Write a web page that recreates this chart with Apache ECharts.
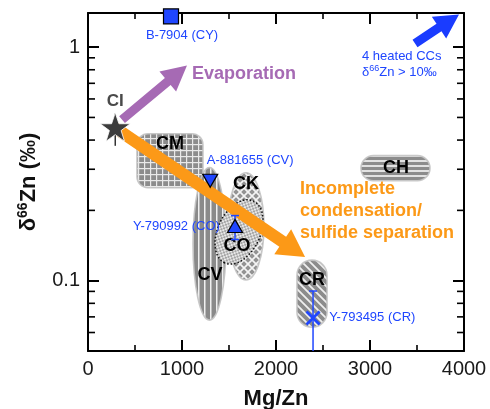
<!DOCTYPE html>
<html><head><meta charset="utf-8">
<script src="https://cdn.jsdelivr.net/npm/echarts@6/dist/echarts.min.js"></script>
<style>html,body{margin:0;padding:0;background:#fff}#c{width:490px;height:409px}</style>
</head><body><div id="c"></div>
<script>
const FONT = '"Liberation Sans", Arial, Helvetica, sans-serif';

// ---- axes ----
const xMin = 0, xMax = 4000, xInterval = 1000;
const yMin = 0.05, yMax = 1.4;
const yMajorTicks = [0.1, 1];
const yMinorTicks = [0.06, 0.07, 0.08, 0.09, 0.2, 0.3, 0.4, 0.5, 0.6, 0.7, 0.8, 0.9];

// ---- chondrite group fields ----
const regionNames  = ['CM', 'CV', 'CK', 'CO', 'CR', 'CH'];
const regionXMin   = [521, 1117, 1489, 1351, 2223, 2904];
const regionXMax   = [1223, 1468, 1872, 1862, 2543, 3638];
const regionYMin   = [0.250, 0.0678, 0.1007, 0.1178, 0.0632, 0.268];
const regionYMax   = [0.426, 0.305, 0.290, 0.222, 0.1225, 0.343];
const regionLabelX = [872, 1298, 1681, 1585, 2383, 3277];
const regionLabelY = [0.386, 0.1057, 0.260, 0.141, 0.1005, 0.305];

// ---- CI ----
const ciName = 'CI';
const ciMgZn = 290;
const ciD66Zn = 0.455;
const ciErrLow = 0.378;
const ciErrHigh = 0.52;

// ---- individual samples ----
const sampleNames   = ['B-7904 (CY)', 'A-881655 (CV)', 'Y-790992 (CO)', 'Y-793495 (CR)'];
const sampleMgZn    = [883, 1300, 1564, 2394];
const sampleD66Zn   = [1.354, 0.268, 0.1715, 0.0692];
const sampleErrLow  = [null, null, 0.150, 0.03];
const sampleErrHigh = [null, null, 0.190, 0.0903];

// ---- arrows ----
const arrowNames = ['Evaporation', 'Incomplete condensation/sulfide separation', 'heated CCs'];
const arrowFromX = [362, 287, 3479];
const arrowFromY = [0.4895, 0.452, 1.037];
const arrowToX   = [1053, 2309, 3947];
const arrowToY   = [0.8345, 0.1264, 1.381];

// ---- styles ----
const BLUE = '#1f46ff';
const PURPLE = '#a66ab4';
const ORANGE = '#fc9917';
const arrowStyle = [
  {color: PURPLE, shaft: 9, headLen: 25, headHalf: 13},
  {color: ORANGE, shaft: 12, headLen: 27, headHalf: 15},
  {color: '#1a3cff', shaft: 9, headLen: 24, headHalf: 13}
];

function makePattern(kind) {
  const c = document.createElement('canvas');
  let s = 6;
  const ctx = () => c.getContext('2d');
  if (kind === 'grid') {
    s = 6; c.width = s; c.height = s; const g = ctx();
    g.fillStyle = '#8c8c8c'; g.fillRect(0, 0, s, s);
    g.fillStyle = '#e9e9e9'; g.fillRect(0, 0, s, 1.2); g.fillRect(0, 0, 1.2, s);
  } else if (kind === 'vstripe') {
    c.width = 6; c.height = 6; const g = ctx();
    g.fillStyle = '#8a8a8a'; g.fillRect(0, 0, 6, 6);
    g.fillStyle = '#f0f0f0'; g.fillRect(0, 0, 1.5, 6);
  } else if (kind === 'cross') {
    s = 8; c.width = s; c.height = s; const g = ctx();
    g.fillStyle = '#939393'; g.fillRect(0, 0, s, s);
    g.strokeStyle = '#f4f4f4'; g.lineWidth = 1.7;
    g.beginPath(); g.moveTo(-1, -1); g.lineTo(s + 1, s + 1); g.moveTo(s + 1, -1); g.lineTo(-1, s + 1); g.stroke();
  } else if (kind === 'dots') {
    c.width = 4; c.height = 4; const g = ctx();
    g.fillStyle = '#e8e8e8'; g.fillRect(0, 0, 4, 4);
    g.fillStyle = '#a4a4a4'; g.fillRect(0, 0, 2, 2); g.fillRect(2, 2, 2, 2);
  } else if (kind === 'diag') {
    s = 8; c.width = s; c.height = s; const g = ctx();
    g.fillStyle = '#8c8c8c'; g.fillRect(0, 0, s, s);
    g.strokeStyle = '#efefef'; g.lineWidth = 1.8;
    g.beginPath();
    [-s, 0, s].forEach(k => { g.moveTo(k - 1, -1); g.lineTo(k + s + 1, s + 1); });
    g.stroke();
  } else if (kind === 'hstripe') {
    c.width = 5; c.height = 5; const g = ctx();
    g.fillStyle = '#8c8c8c'; g.fillRect(0, 0, 5, 5);
    g.fillStyle = '#e2e2e2'; g.fillRect(0, 0, 5, 2);
  }
  return {image: c, repeat: 'repeat'};
}

const regionStyle = {
  CM: {shape: 'roundRect', pattern: 'grid', r: 11},
  CV: {shape: 'ellipse', pattern: 'vstripe'},
  CK: {shape: 'ellipse', pattern: 'cross'},
  CO: {shape: 'tilted', pattern: 'dots', tilt: 65},
  CR: {shape: 'capsule', pattern: 'diag'},
  CH: {shape: 'capsule', pattern: 'hstripe'}
};
const patterns = {};
['grid', 'vstripe', 'cross', 'dots', 'diag', 'hstripe'].forEach(k => patterns[k] = makePattern(k));

function renderRegion(params, api) {
  const name = regionNames[params.dataIndex];
  const st = regionStyle[name];
  const p1 = api.coord([api.value(0), api.value(3)]);
  const p2 = api.coord([api.value(1), api.value(2)]);
  const x = p1[0], y = p1[1], w = p2[0] - p1[0], h = p2[1] - p1[1];
  const fill = patterns[st.pattern];
  const rim = {fill: fill, stroke: 'rgba(195,195,195,0.9)', lineWidth: 1.6};
  let shapeEl;
  if (st.shape === 'roundRect' || st.shape === 'capsule') {
    const r = st.shape === 'capsule' ? Math.min(w, h) / 2 : st.r;
    shapeEl = {type: 'rect', shape: {x: x, y: y, width: w, height: h, r: r}, style: rim};
  } else if (st.shape === 'ellipse') {
    shapeEl = {type: 'ellipse', shape: {cx: x + w / 2, cy: y + h / 2, rx: w / 2, ry: h / 2}, style: rim};
  } else {
    const t = st.tilt * Math.PI / 180;
    const c2 = Math.cos(t) ** 2, s2 = Math.sin(t) ** 2;
    const P = (w / 2) ** 2, Q = (h / 2) ** 2;
    const diff = (P - Q) / (c2 - s2), sum = P + Q;
    const a = Math.sqrt(Math.max((sum + diff) / 2, 1)), b = Math.sqrt(Math.max((sum - diff) / 2, 1));
    shapeEl = {type: 'ellipse', x: x + w / 2, y: y + h / 2, rotation: t,
      shape: {cx: 0, cy: 0, rx: a, ry: b},
      style: {fill: fill, stroke: '#111', lineWidth: 1.5, lineDash: [1.5, 2]}};
  }
  const lp = api.coord([api.value(4), api.value(5)]);
  return {type: 'group', children: [
    shapeEl,
    {type: 'text', x: lp[0], y: lp[1], z2: 10, style: {text: name, fill: '#000', fontSize: 18, fontWeight: 'bold',
      fontFamily: FONT, align: 'center', verticalAlign: 'middle'}}
  ]};
}

function renderArrow(params, api) {
  const st = arrowStyle[params.dataIndex];
  const a = api.coord([api.value(0), api.value(1)]);
  const b = api.coord([api.value(2), api.value(3)]);
  const dx = b[0] - a[0], dy = b[1] - a[1], L = Math.hypot(dx, dy);
  const ux = dx / L, uy = dy / L, nx = -uy, ny = ux;
  const nk = [b[0] - ux * st.headLen, b[1] - uy * st.headLen];
  const s = st.shaft / 2, hh = st.headHalf;
  const pts = [
    [a[0] + nx * s, a[1] + ny * s], [nk[0] + nx * s, nk[1] + ny * s], [nk[0] + nx * hh, nk[1] + ny * hh],
    b, [nk[0] - nx * hh, nk[1] - ny * hh], [nk[0] - nx * s, nk[1] - ny * s], [a[0] - nx * s, a[1] - ny * s]
  ];
  return {type: 'polygon', shape: {points: pts}, style: {fill: st.color}};
}

function renderErr(params, api) {
  const info = errItems[params.dataIndex];
  const lo = api.coord([api.value(0), api.value(1)]);
  const hi = api.coord([api.value(0), api.value(2)]);
  const ch = [];
  const ls = {stroke: info.color, lineWidth: 1.5};
  ch.push({type: 'line', shape: {x1: lo[0], y1: lo[1], x2: hi[0], y2: hi[1]}, style: ls});
  if (info.cap) {
    ch.push({type: 'line', shape: {x1: lo[0] - 4, y1: lo[1], x2: lo[0] + 4, y2: lo[1]}, style: ls});
    ch.push({type: 'line', shape: {x1: hi[0] - 4, y1: hi[1], x2: hi[0] + 4, y2: hi[1]}, style: ls});
  }
  return {type: 'group', children: ch};
}

function renderMinorY(params, api) {
  const cs = params.coordSys;
  const p = api.coord([xMin, api.value(1)]);
  const st = {stroke: '#000', lineWidth: 1.6};
  return {type: 'group', children: [
    {type: 'line', shape: {x1: cs.x, y1: p[1], x2: cs.x + 7, y2: p[1]}, style: st},
    {type: 'line', shape: {x1: cs.x + cs.width, y1: p[1], x2: cs.x + cs.width - 7, y2: p[1]}, style: st}
  ]};
}

const errItems = [{x: ciMgZn, lo: ciErrLow, hi: ciErrHigh, color: '#333', cap: false}];
sampleNames.forEach((n, i) => {
  if (sampleErrLow[i] != null) errItems.push({x: sampleMgZn[i], lo: sampleErrLow[i], hi: sampleErrHigh[i], color: BLUE, cap: true});
});

const STAR = 'path://M50,0 L61.8,35.1 L98.1,35.1 L68.8,56.9 L79.4,91 L50,70 L20.6,91 L31.2,56.9 L1.9,35.1 L38.2,35.1 Z';
const TRI_DOWN = 'path://M0,0 L10,0 L5,8.66 Z';
const CROSS = 'path://M1.3,0 L5,3.7 L8.7,0 L10,1.3 L6.3,5 L10,8.7 L8.7,10 L5,6.3 L1.3,10 L0,8.7 L3.7,5 L0,1.3 Z';
const sampleLook = [
  {symbol: 'rect', size: 15, border: '#000', label: {position: 'bottom', distance: 4, offset: [11, 0]}},
  {symbol: TRI_DOWN, size: [15, 13], border: '#000', label: {position: 'top', distance: 7, offset: [40, 0]}},
  {symbol: 'triangle', size: [15, 13], border: '#000', label: {position: 'left', distance: 7, offset: [0, 0]}},
  {symbol: CROSS, size: 15, border: 'transparent', label: {position: 'right', distance: 8, offset: [0, -1]}}
];

const sampleData = sampleNames.map((n, i) => ({
  name: n, value: [sampleMgZn[i], sampleD66Zn[i]],
  symbol: sampleLook[i].symbol, symbolSize: sampleLook[i].size,
  itemStyle: {color: BLUE, borderColor: sampleLook[i].border, borderWidth: 1.2, opacity: 1},
  label: Object.assign({show: true, formatter: '{b}', color: BLUE, fontSize: 13, fontFamily: FONT}, sampleLook[i].label)
}));

const axisLineStyle = {color: '#000', width: 2};
const chart = echarts.init(document.getElementById('c'), null, {renderer: 'canvas'});
chart.setOption({
  animation: false,
  backgroundColor: '#fff',
  grid: {left: 88, right: 26, top: 13, bottom: 58, containLabel: false, outerBoundsMode: 'none'},
  xAxis: [
    {type: 'value', min: xMin, max: xMax, interval: xInterval, position: 'bottom',
      axisLine: {show: true, onZero: false, lineStyle: axisLineStyle},
      axisTick: {show: true, inside: true, length: 11, lineStyle: {color: '#000', width: 2}},
      minorTick: {show: true, splitNumber: 2, length: 6, lineStyle: {color: '#000', width: 1.6}},
      splitLine: {show: false},
      axisLabel: {fontSize: 20, fontFamily: FONT, color: '#1a1a1a', margin: 8, formatter: v => String(v)},
      name: 'Mg/Zn', nameLocation: 'middle', nameGap: 37,
      nameTextStyle: {fontSize: 22, fontWeight: 'bold', color: '#111', fontFamily: FONT}},
    {type: 'value', min: xMin, max: xMax, interval: xInterval, position: 'top',
      axisLine: {show: true, onZero: false, lineStyle: axisLineStyle},
      axisTick: {show: true, inside: true, length: 11, lineStyle: {color: '#000', width: 2}},
      minorTick: {show: true, splitNumber: 2, length: 6, lineStyle: {color: '#000', width: 1.6}},
      splitLine: {show: false}, axisLabel: {show: false}}
  ],
  yAxis: [
    {type: 'log', logBase: 10, min: yMin, max: yMax, position: 'left',
      axisLine: {show: true, onZero: false, lineStyle: axisLineStyle},
      axisTick: {show: true, inside: true, length: 11, lineStyle: {color: '#000', width: 2}},
      splitLine: {show: false}, minorTick: {show: false},
      axisLabel: {fontSize: 20, fontFamily: FONT, color: '#1a1a1a', margin: 8,
        formatter: v => { for (const t of yMajorTicks) if (Math.abs(v - t) / t < 1e-6) return String(t); return ''; }},
      name: '{a|δ}{s|66}{a|Zn (‰)}', nameLocation: 'middle', nameGap: 46,
      nameTextStyle: {fontFamily: FONT, color: '#111',
        rich: {a: {fontSize: 22, fontWeight: 'bold', fontFamily: FONT, color: '#111', lineHeight: 26},
               s: {fontSize: 14, fontWeight: 'bold', fontFamily: FONT, color: '#111', lineHeight: 14, verticalAlign: 'top'}}}},
    {type: 'log', logBase: 10, min: yMin, max: yMax, position: 'right',
      axisLine: {show: true, onZero: false, lineStyle: axisLineStyle},
      axisTick: {show: true, inside: true, length: 11, lineStyle: {color: '#000', width: 2}},
      splitLine: {show: false}, minorTick: {show: false}, axisLabel: {show: false}}
  ],
  graphic: [
    {type: 'text', x: 192, y: 74, z: 100, style: {text: 'Evaporation', fill: PURPLE, fontSize: 18, fontWeight: 'bold', fontFamily: FONT, verticalAlign: 'middle'}},
    {type: 'text', x: 300, y: 211, z: 100, style: {text: 'Incomplete\ncondensation/\nsulfide separation', fill: ORANGE, fontSize: 18, fontWeight: 'bold', fontFamily: FONT, lineHeight: 22, verticalAlign: 'middle'}},
    {type: 'text', x: 362, y: 64, z: 100, style: {text: '{t|4 heated CCs}\n{t|δ}{s|66}{t|Zn > 10‰}', verticalAlign: 'middle',
      rich: {t: {fontSize: 13, fontFamily: FONT, fill: BLUE, color: BLUE, lineHeight: 16},
             s: {fontSize: 9, fontFamily: FONT, fill: BLUE, color: BLUE, lineHeight: 9, verticalAlign: 'top'}}}}
  ],
  series: [
    {type: 'custom', name: 'minor ticks', renderItem: renderMinorY, silent: true, z: 1,
      data: yMinorTicks.map(v => [xMin, v]), encode: {x: 0, y: 1}},
    {type: 'custom', name: 'groups', renderItem: renderRegion, z: 2,
      data: regionNames.map((n, i) => [regionXMin[i], regionXMax[i], regionYMin[i], regionYMax[i], regionLabelX[i], regionLabelY[i]]),
      encode: {x: [0, 1, 4], y: [2, 3, 5]}},
    {type: 'custom', name: 'arrows', renderItem: renderArrow, z: 3, clip: false,
      data: arrowNames.map((n, i) => [arrowFromX[i], arrowFromY[i], arrowToX[i], arrowToY[i]]),
      encode: {x: [0, 2], y: [1, 3]}},
    {type: 'custom', name: 'error bars', renderItem: renderErr, z: 4, clip: true,
      data: errItems.map(e => [e.x, e.lo, e.hi]), encode: {x: 0, y: [1, 2]}},
    {type: 'scatter', name: 'samples', z: 5, data: sampleData},
    {type: 'scatter', name: ciName, z: 6,
      data: [{name: ciName, value: [ciMgZn, ciD66Zn]}],
      symbol: STAR, symbolSize: 30, symbolKeepAspect: true,
      itemStyle: {color: '#3c3c3c', borderColor: '#fff', borderWidth: 0.8, opacity: 1},
      label: {show: true, formatter: '{b}', position: 'top', distance: 3, color: '#4a4a4a', fontSize: 17, fontWeight: 'bold', fontFamily: FONT}}
  ]
});
</script></body></html>
